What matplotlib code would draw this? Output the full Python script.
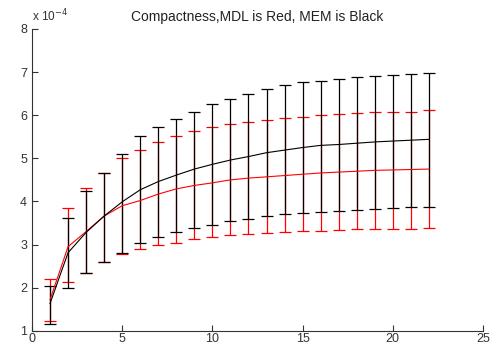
import numpy as np
import matplotlib.pyplot as plt

# Sample index
x = np.arange(1, 23)

# MEM (black): mean, lower and upper error bar ends, units of 1e-4
mem_mean = [1.63, 2.81, 3.28, 3.66, 3.99, 4.27, 4.46, 4.61, 4.75, 4.86, 4.96,
            5.04, 5.13, 5.19, 5.25, 5.30, 5.32, 5.35, 5.38, 5.40, 5.42, 5.44]
mem_low = [1.15, 2.00, 2.35, 2.60, 2.81, 3.04, 3.17, 3.28, 3.38, 3.45, 3.54,
           3.60, 3.66, 3.70, 3.74, 3.76, 3.78, 3.80, 3.82, 3.85, 3.87, 3.87]
mem_high = [2.04, 3.62, 4.23, 4.67, 5.09, 5.51, 5.73, 5.92, 6.08, 6.25, 6.38,
            6.50, 6.61, 6.69, 6.76, 6.80, 6.84, 6.89, 6.92, 6.94, 6.96, 6.99]

# MDL (red)
mdl_mean = [1.72, 2.95, 3.30, 3.66, 3.90, 4.02, 4.17, 4.29, 4.37, 4.43, 4.50,
            4.54, 4.57, 4.60, 4.63, 4.66, 4.68, 4.70, 4.72, 4.73, 4.74, 4.75]
mdl_low = [1.22, 2.12, 2.34, 2.60, 2.77, 2.90, 2.99, 3.04, 3.12, 3.17, 3.22,
           3.24, 3.26, 3.29, 3.31, 3.31, 3.33, 3.35, 3.35, 3.37, 3.37, 3.39]
mdl_high = [2.20, 3.84, 4.30, 4.67, 5.00, 5.19, 5.37, 5.51, 5.64, 5.72, 5.79,
            5.85, 5.88, 5.93, 5.96, 6.01, 6.03, 6.05, 6.07, 6.08, 6.08, 6.11]


def yerr(mean, low, high):
    m = np.array(mean)
    return [m - np.array(low), np.array(high) - m]


plt.rcParams['font.family'] = ['Liberation Sans', 'DejaVu Sans']

fig = plt.figure(figsize=(4.95, 3.46), dpi=100)
ax = fig.add_axes([0.0646, 0.0442, 0.9112, 0.872])

ax.errorbar(x, mdl_mean, yerr=yerr(mdl_mean, mdl_low, mdl_high), color='red',
            lw=0.8, elinewidth=0.9, capsize=4, capthick=0.9)
ax.errorbar(x, mem_mean, yerr=yerr(mem_mean, mem_low, mem_high), color='black',
            lw=0.8, elinewidth=0.9, capsize=4, capthick=0.9)

ax.set_xlim(0, 25)
ax.set_ylim(1, 8)
ax.set_xticks([0, 5, 10, 15, 20, 25])
ax.set_yticks([1, 2, 3, 4, 5, 6, 7, 8])
ax.tick_params(direction='in', length=4, labelsize=9, colors='#333333',
               width=0.8)
ax.tick_params(axis='x', pad=1.5)
for side in ['top', 'right']:
    ax.spines[side].set_visible(False)
for side in ['left', 'bottom']:
    ax.spines[side].set_color('#333333')
    ax.spines[side].set_linewidth(0.8)

ax.set_title('Compactness,MDL is Red, MEM is Black', fontsize=10, color='#222222',
             pad=6)
ax.text(0.0, 1.015, r'x 10$^{-4}$', transform=ax.transAxes, fontsize=8.5,
        color='#333333', va='bottom', ha='left')

fig.savefig('out.png', dpi=100)
